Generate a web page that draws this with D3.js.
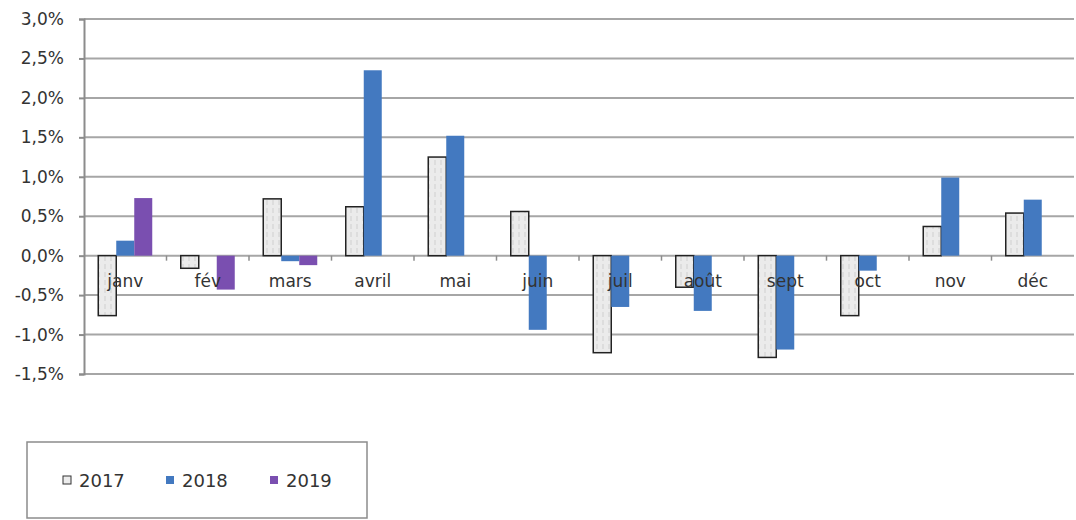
<!DOCTYPE html>
<html>
<head>
<meta charset="utf-8">
<script src="https://cdn.jsdelivr.net/npm/d3@7"></script>
<style>
  body { margin: 0; background: #fff; }
  svg text { font-family: "DejaVu Sans", Arial, sans-serif; }
</style>
</head>
<body>
<div id="chart"></div>
<script>
const months = ["janv", "fév", "mars", "avril", "mai", "juin", "juil", "août", "sept", "oct", "nov", "déc"];
const years = ["2017", "2018", "2019"];
const v2017 = [-0.76, -0.16, 0.72, 0.62, 1.25, 0.56, -1.23, -0.40, -1.29, -0.76, 0.37, 0.54];
const v2018 = [0.19, 0.0, -0.07, 2.35, 1.52, -0.94, -0.65, -0.70, -1.19, -0.19, 0.99, 0.71];
const v2019 = [0.73, -0.43, -0.12, null, null, null, null, null, null, null, null, null];
const yTicks = [-1.5, -1.0, -0.5, 0, 0.5, 1.0, 1.5, 2.0, 2.5, 3.0];

const series = [v2017, v2018, v2019];
const colors = ["#e6e6e6", "#4379c0", "#7a4fb0"];

const svgWidth = 1076;
const svgHeight = 520;
const margin = { top: 19, left: 84, right: 2 };
const plotBottom = 374;

const svg = d3.select("#chart")
    .append("svg")
    .attr("width", svgWidth)
    .attr("height", svgHeight);

// pattern for the 2017 bars
const pat = svg.append("defs").append("pattern")
    .attr("id", "p2017")
    .attr("patternUnits", "userSpaceOnUse")
    .attr("width", 6)
    .attr("height", 8);
pat.append("rect").attr("width", 6).attr("height", 8).attr("fill", "#ebebeb");
pat.append("line")
    .attr("x1", 3).attr("x2", 3).attr("y1", 0).attr("y2", 5)
    .attr("stroke", "#cfcfcf").attr("stroke-width", 1);

const x = d3.scaleBand()
    .domain(months)
    .range([margin.left, svgWidth - margin.right]);

const xs = d3.scaleBand()
    .domain(years)
    .range([x.bandwidth() / 2 - 27, x.bandwidth() / 2 + 27]);

const y = d3.scaleLinear()
    .domain([-1.5, 3.0])
    .range([plotBottom, margin.top]);

const fmt = d => d.toFixed(1).replace(".", ",") + "%";

// gridlines
svg.append("g")
    .selectAll("line")
    .data(yTicks)
    .join("line")
    .attr("x1", margin.left)
    .attr("x2", svgWidth - margin.right)
    .attr("y1", d => y(d))
    .attr("y2", d => y(d))
    .attr("stroke", "#a6a6a6")
    .attr("stroke-width", 2);

// y axis
const yAxis = svg.append("g")
    .attr("transform", `translate(${margin.left},0)`)
    .call(d3.axisLeft(y).tickValues(yTicks).tickFormat(fmt).tickSize(5).tickPadding(15));
yAxis.select(".domain").attr("stroke", "#8c8c8c").attr("stroke-width", 2);
yAxis.selectAll(".tick line").attr("stroke", "#8c8c8c").attr("stroke-width", 2);
yAxis.selectAll("text").attr("font-size", 17).attr("fill", "#333");

// bars
series.forEach((vals, si) => {
    svg.append("g")
        .selectAll("rect")
        .data(vals.map((v, i) => ({ m: months[i], v })).filter(d => d.v !== null))
        .join("rect")
        .attr("x", d => x(d.m) + xs(years[si]))
        .attr("width", xs.bandwidth())
        .attr("y", d => y(Math.max(0, d.v)))
        .attr("height", d => Math.abs(y(d.v) - y(0)))
        .attr("fill", si === 0 ? "url(#p2017)" : colors[si])
        .attr("stroke", si === 0 ? "#222" : "none")
        .attr("stroke-width", si === 0 ? 1.5 : 0);
});

// x axis at zero
const xAxis = svg.append("g")
    .attr("transform", `translate(0,${y(0)})`)
    .call(d3.axisBottom(x).tickSize(0).tickPadding(19));
xAxis.select(".domain").remove();
xAxis.selectAll("text").attr("font-size", 17).attr("fill", "#333");

// small category ticks
svg.append("g")
    .selectAll("line")
    .data(months.slice(1))
    .join("line")
    .attr("x1", d => x(d))
    .attr("x2", d => x(d))
    .attr("y1", y(0))
    .attr("y2", y(0) + 5)
    .attr("stroke", "#8c8c8c")
    .attr("stroke-width", 1.5);

// legend
const legend = svg.append("g");
legend.append("rect")
    .attr("x", 27).attr("y", 442)
    .attr("width", 340).attr("height", 76)
    .attr("fill", "#fff")
    .attr("stroke", "#8c8c8c")
    .attr("stroke-width", 1.5);

const legendX = [63, 166, 270];
years.forEach((yr, i) => {
    legend.append("rect")
        .attr("x", legendX[i]).attr("y", 476)
        .attr("width", 8).attr("height", 8)
        .attr("fill", i === 0 ? "#ececec" : colors[i])
        .attr("stroke", i === 0 ? "#333" : "none")
        .attr("stroke-width", 1);
    legend.append("text")
        .attr("x", legendX[i] + 16)
        .attr("y", 487)
        .attr("font-size", 18)
        .attr("fill", "#333")
        .text(yr);
});
</script>
</body>
</html>
